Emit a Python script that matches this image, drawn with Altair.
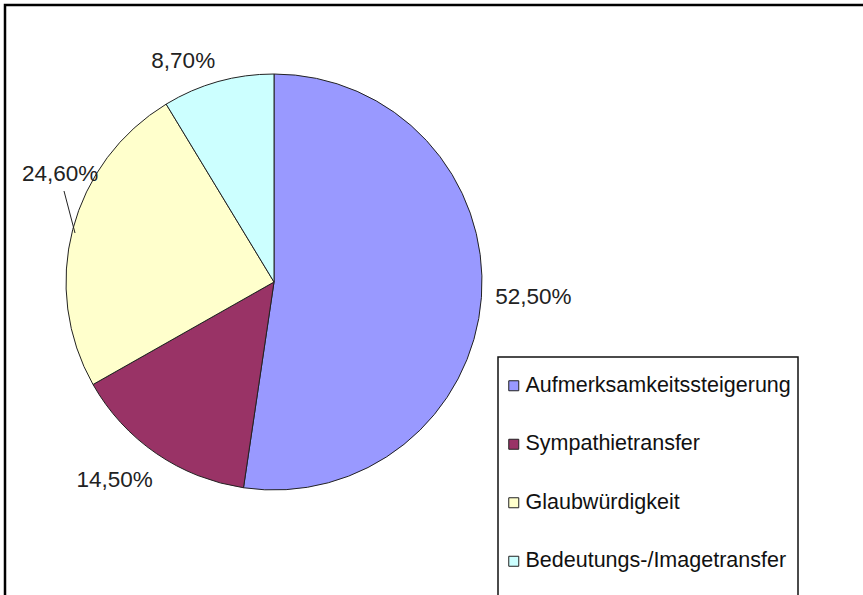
import altair as alt
import pandas as pd

categories = ["Aufmerksamkeitssteigerung", "Sympathietransfer", "Glaubwürdigkeit", "Bedeutungs-/Imagetransfer"]
values = [52.5, 14.5, 24.6, 8.7]
colors = ["#9999FF", "#993366", "#FFFFCC", "#CCFFFF"]

df = pd.DataFrame({
    "category": categories,
    "value": values,
    "order": list(range(len(categories))),
    "label": [f"{v:.2f}%".replace(".", ",") for v in values],
})

CX, CY, R = 274, 282, 208
LABEL_R = 248
FONT = "Liberation Sans"
# label nudges (Excel-style placement), relative to the slice's mid-angle position
label_nudge = {
    "Aufmerksamkeitssteigerung": (12, -3),
    "Sympathietransfer": (-19, -6),
    "Glaubwürdigkeit": (26, -45),
    "Bedeutungs-/Imagetransfer": (-24, 18),
}

color = alt.Color(
    "category:N",
    scale=alt.Scale(domain=categories, range=colors),
    sort=None,
    legend=alt.Legend(
        orient="none", legendX=503, legendY=375, title=None,
        symbolType="square", symbolSize=100, symbolStrokeColor="#222222",
        symbolStrokeWidth=1, symbolOpacity=1,
        labelFont=FONT, labelFontSize=21.5, labelColor="#111111",
        labelOffset=1, rowPadding=35.5, padding=0, labelLimit=400,
    ),
)

base = alt.Chart(df)

pie = base.mark_arc(outerRadius=R, stroke="#222222", strokeWidth=1).encode(
    theta=alt.Theta("value:Q", stack=True),
    order=alt.Order("order:Q"),
    color=color,
    x=alt.value(CX),
    y=alt.value(CY),
)

label_layers = []
for cat in categories:
    dx, dy = label_nudge[cat]
    label_layers.append(
        base.mark_text(radius=LABEL_R, dx=dx, dy=dy, font=FONT, fontSize=22.5, color="#222222").encode(
            theta=alt.Theta("value:Q", stack=True),
            order=alt.Order("order:Q"),
            text="label:N",
            opacity=alt.condition(alt.datum.category == cat, alt.value(1), alt.value(0)),
            x=alt.value(CX),
            y=alt.value(CY),
        )
    )

# leader line for the 24,60% label
leader = alt.Chart(pd.DataFrame({"a": [0]})).mark_rule(color="#222222", strokeWidth=1).encode(
    x=alt.value(64), x2=alt.value(75), y=alt.value(191), y2=alt.value(233)
)

legend_box = alt.Chart(pd.DataFrame({"a": [0]})).mark_rect(
    fill="white", stroke="#111111", strokeWidth=1.5
).encode(x=alt.value(498), x2=alt.value(798), y=alt.value(357), y2=alt.value(640))

frame = alt.Chart(pd.DataFrame({"a": [0]})).mark_rect(
    fill="transparent", stroke="#000000", strokeWidth=2.5
).encode(x=alt.value(5), x2=alt.value(880), y=alt.value(5), y2=alt.value(640))

chart = alt.layer(frame, legend_box, pie, leader, *label_layers).properties(
    width=863, height=595, padding=0, autosize=alt.AutoSizeParams(type="none"),
    background="white",
).configure_view(stroke=None)

chart.save("out.html", embed_options={"renderer": "svg", "actions": False})
